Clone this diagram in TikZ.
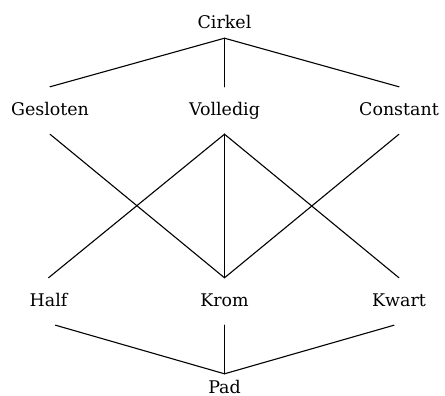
\documentclass[tikz,border=0pt]{standalone}
\usepackage{fontspec}
\setmainfont{DejaVu Serif}
\begin{document}
\begin{tikzpicture}[x=1bp,y=1bp,
  lbl/.style={font=\fontsize{17.5}{20}\selectfont, anchor=base, inner xsep=0pt, text height=13bp, text depth=4bp},
  midlbl/.style={lbl, inner ysep=15bp},
  endlbl/.style={lbl, inner ysep=6bp},
  conn/.style={line width=1.1bp, line cap=round}]
\useasboundingbox (0,0) rectangle (445,395);
\node[endlbl] (cirkel) at (224.5,367) {Cirkel};
\node[midlbl] (gesloten) at (50,280) {Gesloten};
\node[midlbl] (volledig) at (224.5,280) {Volledig};
\node[midlbl] (constant) at (399,280) {Constant};
\node[midlbl] (half) at (48.5,89) {Half};
\node[midlbl] (krom) at (224.5,89) {Krom};
\node[midlbl] (kwart) at (399,89) {Kwart};
\node[endlbl] (pad) at (224.5,2) {Pad};
\draw[conn] (gesloten.north) -- (cirkel.south) -- (constant.north);
\draw[conn] (cirkel.south) -- (volledig.north);
\draw[conn] (gesloten.south) -- (krom.north);
\draw[conn] (constant.south) -- (krom.north);
\draw[conn] (half.north) -- (volledig.south) -- (kwart.north);
\draw[conn] (volledig.south) -- (krom.north);
\draw[conn] ([xshift=7bp]half.south) -- (pad.north) -- ([xshift=-5bp]kwart.south);
\draw[conn] (krom.south) -- (pad.north);
\end{tikzpicture}
\end{document}
